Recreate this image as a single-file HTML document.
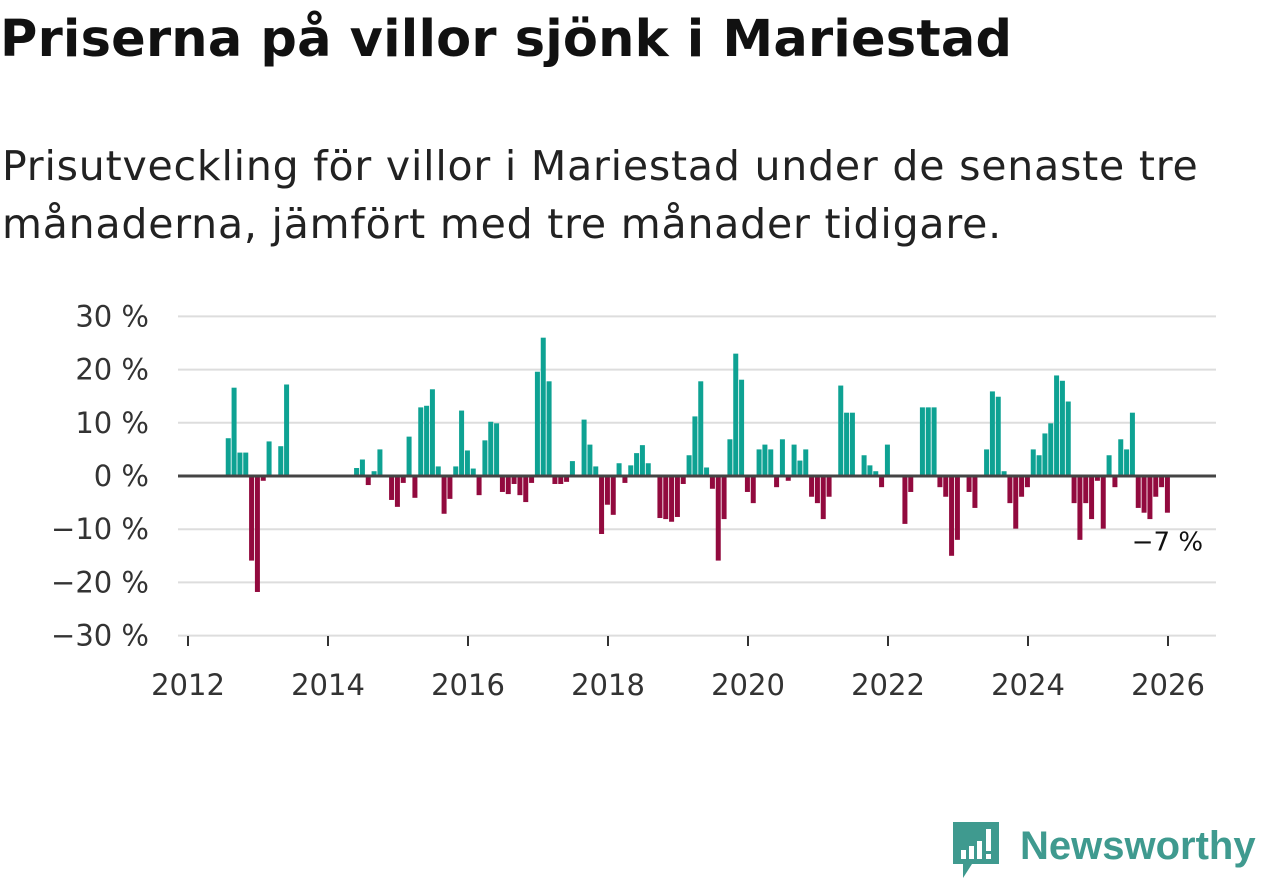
<!DOCTYPE html>
<html><head><meta charset="utf-8">
<style>
body{margin:0;width:1262px;height:879px;background:#fff;font-family:"DejaVu Sans","Liberation Sans",sans-serif;overflow:hidden;position:relative}
#title{position:absolute;left:0px;top:10px;font-size:51px;font-weight:bold;color:#111;margin:0;letter-spacing:0.2px;white-space:nowrap}
#sub{position:absolute;left:2px;top:137px;font-size:41px;color:#222;line-height:58px;margin:0;width:1250px;letter-spacing:0.8px}
svg{position:absolute;left:0;top:0}
</style></head><body>
<h1 id="title">Priserna på villor sjönk i Mariestad</h1>
<p id="sub">Prisutveckling för villor i Mariestad under de senaste tre<br>månaderna, jämfört med tre månader tidigare.</p>
<svg id="chart" width="1262" height="879"></svg>
<div style="position:absolute;left:950px;top:820px;width:312px;height:59px">
<svg width="52" height="59" style="left:0;top:0"><path d="M3 2h46v42H22l-9 14v-14H3z" fill="#3f9a8f"/><rect x="11" y="30" width="5" height="9" fill="#fff"/><rect x="19" y="26" width="5" height="13" fill="#fff"/><rect x="27" y="21" width="5" height="18" fill="#fff"/><rect x="36" y="9" width="5" height="22" fill="#fff"/><rect x="36" y="34" width="5" height="5" fill="#fff"/></svg>
<span style="position:absolute;left:70px;top:4px;font-family:'Liberation Sans',sans-serif;font-size:40px;font-weight:bold;color:#3f9a8f">Newsworthy</span>
</div>
<script>
const startYear = 2012, startMonth = 6;
const values = [7.1,16.6,4.4,4.4,-15.9,-21.8,-0.9,6.5,0,5.6,17.2,
null,null,null,null,null,null,null,null,null,null,null,
1.5,3.1,-1.7,0.9,5.0,0,-4.5,-5.8,-1.3,7.4,-4.1,12.9,13.2,16.3,1.8,-7.1,-4.3,1.8,12.3,4.8,1.4,-3.6,6.7,10.2,9.9,-3.0,-3.4,-1.5,-3.6,-4.9,-1.3,
19.6,26.0,17.8,-1.5,-1.5,-1.1,2.8,0,10.6,5.9,1.8,-10.9,-5.4,-7.3,2.4,-1.3,2.0,4.3,5.8,2.4,0,-7.9,-8.1,-8.6,-7.7,-1.5,3.9,11.2,17.8,1.6,-2.4,-15.9,-8.1,6.9,23.0,18.1,-3.0,-5.1,5.0,5.9,5.0,-2.1,6.9,-0.9,5.9,2.9,5.0,-3.9,-5.1,-8.1,-3.9,0,17.0,11.9,11.9,0,3.9,2.0,0.9,
-2.1,5.9,0,0,-9.0,-3.0,0,12.9,12.9,12.9,-2.1,-3.9,-15.0,-12.0,0,-3.0,-6.0,0,5.0,15.9,14.9,0.9,-5.1,-9.9,-3.9,-2.1,5.0,3.9,8.0,9.9,18.9,17.9,14.0,-5.1,-12.0,-5.1,-8.1,-0.9,-9.9,3.9,-2.1,6.9,5.0,11.9,-6.0,-6.9,-8.1,-3.9,-2.1,-6.9];
const yTicks = [30,20,10,0,-10,-20,-30];
const yTickLabels = ["30 %","20 %","10 %","0 %","−10 %","−20 %","−30 %"];
const xTicks = [2012,2014,2016,2018,2020,2022,2024,2026];
const lastLabel = "−7 %";

const NS="http://www.w3.org/2000/svg";
const svg=document.getElementById('chart');
const y=v=>476-v*5.32;
const x=t=>188+(t-2012)*70;
function mk(tag,attrs){const e=document.createElementNS(NS,tag);for(const k in attrs)e.setAttribute(k,attrs[k]);svg.appendChild(e);return e;}
yTicks.forEach((v,i)=>{
  const g=mk('line',{x1:178,x2:1216,y1:y(v),y2:y(v),stroke:'#dddddd','stroke-width':2});
  
  
  const t=mk('text',{x:149,y:y(v)+10,'text-anchor':'end','font-size':29,fill:'#333'});
  t.textContent=yTickLabels[i];
  
  
});
xTicks.forEach(yr=>{
  const l=mk('line',{x1:x(yr),x2:x(yr),y1:636,y2:646,stroke:'#333','stroke-width':2});
  
  
  const t=mk('text',{x:x(yr),y:695,'text-anchor':'middle','font-size':29,fill:'#333'});
  t.textContent=yr;
  
  
});
let lastX=0,lastV=0;
values.forEach((v,i)=>{
  if(v===null||v===0)return;
  const t=startYear+(startMonth+i+0.9)/12;
  const cx=x(t);
  const r=mk('rect',{x:cx-2.5,width:5,y:Math.min(y(v),y(0)),height:Math.abs(y(v)-y(0)),fill:v>0?'#0ea293':'#920a3e'});
  
  
  lastX=cx;lastV=v;
});
const z=mk('line',{x1:178,x2:1216,y1:y(0),y2:y(0),stroke:'#444','stroke-width':3});


const lab=mk('text',{x:lastX,y:y(lastV)+38,'text-anchor':'middle','font-size':26,fill:'#111'});
lab.textContent=lastLabel;


</script>
</body></html>
